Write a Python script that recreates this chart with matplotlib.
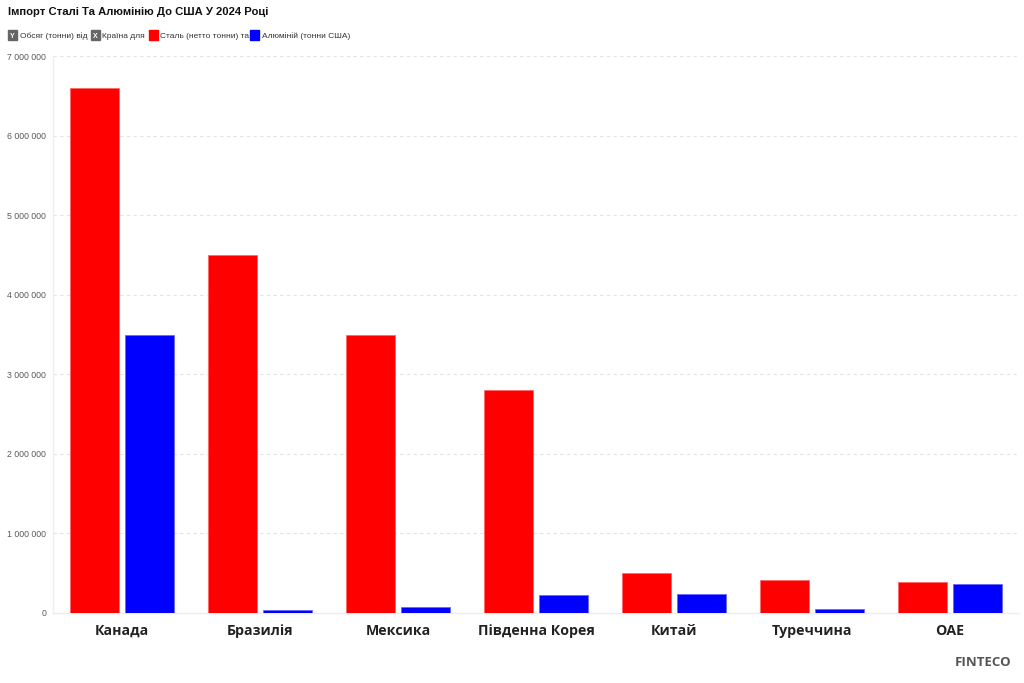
#!/usr/bin/env python3
# steel / aluminium imports to the US, 2024

import numpy as np
import matplotlib
matplotlib.use('Agg')
import matplotlib.pyplot as plt
from matplotlib.patches import Rectangle
from matplotlib.ticker import FuncFormatter


# +
# data
# -
countries = ['Канада', 'Бразилія', 'Мексика', 'Південна Корея', 'Китай', 'Туреччина', 'ОАЕ']
steel = [6600000, 4500000, 3500000, 2800000, 500000, 420000, 390000]
aluminium = [3500000, 40000, 80000, 230000, 240000, 50000, 370000]
y_ticks = [0, 1000000, 2000000, 3000000, 4000000, 5000000, 6000000, 7000000]

title = 'Імпорт Сталі Та Алюмінію До США У 2024 Році'
legend_items = [('Y', '#666666', 'Обсяг (тонни) від'),
                ('X', '#666666', 'Країна для'),
                ('', '#ff0000', 'Сталь (нетто тонни) та'),
                ('', '#0000ff', 'Алюміній (тонни США)')]

# +
# figure
# -
fig = plt.figure(figsize=(10.24, 6.83), dpi=100)
ax = fig.add_axes([53/1024, 1 - 613/683, 966/1024, 557/683])

x = np.arange(len(countries))
w = 0.355
ax.bar(x - 0.2, steel, w, color='#ff0000', edgecolor='#ff6666', lw=0.6, zorder=3)
ax.bar(x + 0.2, aluminium, w, color='#0000ff', edgecolor='#6666ff', lw=0.6, zorder=3)

ax.set_xlim(-0.5, len(countries) - 0.5)
ax.set_ylim(0, 7000000)
ax.set_yticks(y_ticks)
ax.yaxis.set_major_formatter(FuncFormatter(lambda v, p: f'{int(v):,}'.replace(',', ' ')))
ax.set_xticks(x)
ax.set_xticklabels(countries, fontfamily='Open Sans', fontweight='bold', fontsize=10.2, color='#222222')
ax.tick_params(axis='x', length=0, pad=8)
ax.tick_params(axis='y', length=0, pad=5, labelsize=6.3, labelcolor='#5a5a5a')
for _l in ax.get_yticklabels():
    _l.set_fontfamily('Liberation Sans')

ax.grid(axis='y', ls=(0, (3, 3)), color='#e3e3e3', lw=0.8, zorder=0)
for s in ['top', 'right']:
    ax.spines[s].set_visible(False)
for s in ['left', 'bottom']:
    ax.spines[s].set_color('#eeeeee')
    ax.spines[s].set_linewidth(1.0)

# title
fig.text(8/1024, 1 - 12/683, title, fontsize=8.1, fontweight='bold', fontfamily='Liberation Sans',
         va='center', ha='left', color='#111111')

# legend row
lx = [8, 91, 149, 250]
ly = 1 - 35/683
for (_k, _c, _t), _x in zip(legend_items, lx):
    fig.patches.append(Rectangle((_x/1024, ly - 4.5/683), 9/1024, 9/683, transform=fig.transFigure,
                                 color=_c, zorder=1))
    if _k:
        fig.text((_x + 4.5)/1024, ly - 2.5/683, _k, fontsize=5, color='white', fontweight='bold',
                 ha='center', va='baseline', fontfamily='Liberation Sans', zorder=10)
    fig.text((_x + 11.5)/1024, ly - 3/683, _t, fontsize=6.0, color='#333333', ha='left', va='baseline',
             fontfamily='Liberation Sans', zorder=10)

# watermark
fig.text(1011/1024, 1 - 662/683, 'FINTECO', fontsize=9.5, fontweight='bold', color='#555555',
         ha='right', va='center', fontfamily='Open Sans')

fig.savefig('out.png', dpi=100)
